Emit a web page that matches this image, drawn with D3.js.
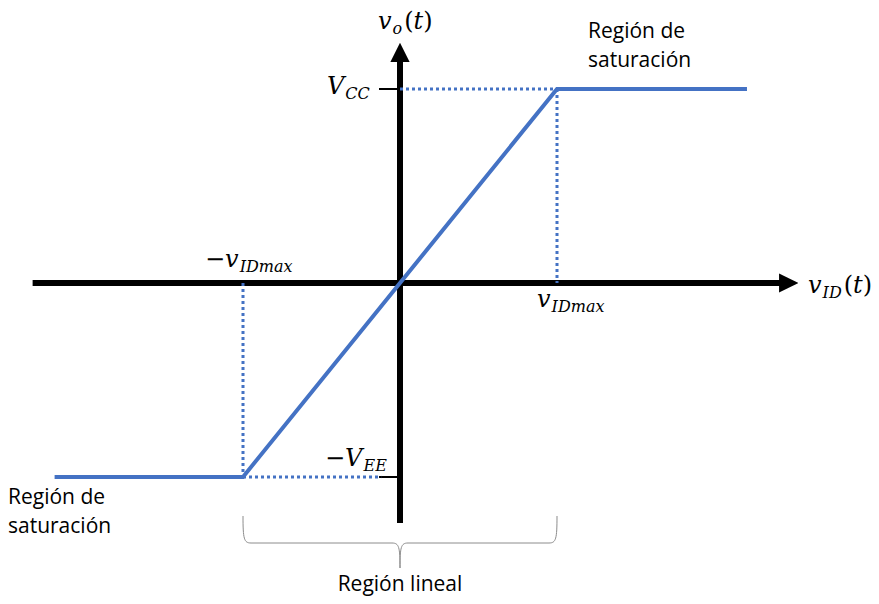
<!DOCTYPE html>
<html>
<head>
<meta charset="utf-8">
<script src="https://cdn.jsdelivr.net/npm/d3@7"></script>
<style>
  body { margin: 0; background: #fff; }
  svg { display: block; }
  .math { font-family: "DejaVu Serif", "Liberation Serif", serif; font-style: italic; fill: #000; }
  .note { font-family: "Open Sans", "Noto Sans", sans-serif; fill: #000; }
</style>
</head>
<body>
<div id="chart"></div>
<script>
// Curva de transferencia (unidades normalizadas: vIDmax = 1, VCC = VEE = 1)
const curveX = [-2.2, -1, 1, 2.21]
const curveY = [-1, -1, 1, 1]

// Límites de los ejes (punta de flecha incluida)
const axisX = [-2.34, 2.535]
const axisY = [-1.237, 1.237]

// Líneas punteadas de referencia
const guides = [
  { x1: -1, y1: 0, x2: -1, y2: -1 },
  { x1: -1, y1: -1, x2: -0.12, y2: -1 },
  { x1: 0, y1: 1, x2: 1, y2: 1 },
  { x1: 1, y1: 1, x2: 1, y2: 0 },
]

// Textos de las regiones
const satTopLines = ["Región de", "saturación"]
const satBottomLines = ["Región de", "saturación"]
const linearLabel = "Región lineal"

function drawTransfer(selector) {
  const width = 879
  const height = 604
  const blue = "#4472C4"

  const svg = d3
    .select(selector)
    .append("svg")
    .attr("width", width)
    .attr("height", height)

  // Escalas: origen en (400, 283)
  const x = d3.scaleLinear().domain([-1, 1]).range([243, 557])
  const y = d3.scaleLinear().domain([-1, 1]).range([477, 89])

  // Cabeza de flecha
  svg
    .append("defs")
    .append("marker")
    .attr("id", "arrow")
    .attr("viewBox", "0 0 10 10")
    .attr("refX", 1)
    .attr("refY", 5)
    .attr("markerWidth", 3.2)
    .attr("markerHeight", 3.2)
    .attr("orient", "auto")
    .attr("markerUnits", "strokeWidth")
    .append("path")
    .attr("d", "M0,0 L10,5 L0,10 Z")
    .attr("fill", "#000")

  // Eje horizontal
  svg
    .append("line")
    .attr("x1", x(axisX[0]))
    .attr("y1", y(0))
    .attr("x2", x(axisX[1]) - 17)
    .attr("y2", y(0))
    .attr("stroke", "#000")
    .attr("stroke-width", 6)
    .attr("marker-end", "url(#arrow)")

  // Eje vertical
  svg
    .append("line")
    .attr("x1", x(0))
    .attr("y1", y(axisY[0]))
    .attr("x2", x(0))
    .attr("y2", y(axisY[1]) + 17)
    .attr("stroke", "#000")
    .attr("stroke-width", 6)
    .attr("marker-end", "url(#arrow)")

  // Marcas VCC y -VEE
  ;[1, -1].forEach((v) => {
    svg
      .append("line")
      .attr("x1", x(0) - 21)
      .attr("x2", x(0))
      .attr("y1", y(v))
      .attr("y2", y(v))
      .attr("stroke", "#000")
      .attr("stroke-width", 2)
  })

  // Líneas punteadas
  svg
    .selectAll(".guide")
    .data(guides)
    .enter()
    .append("line")
    .attr("class", "guide")
    .attr("x1", (d) => x(d.x1))
    .attr("y1", (d) => y(d.y1))
    .attr("x2", (d) => x(d.x2))
    .attr("y2", (d) => y(d.y2))
    .attr("stroke", blue)
    .attr("stroke-width", 3)
    .attr("stroke-dasharray", "3,3")

  // Curva de transferencia
  const line = d3
    .line()
    .x((d) => x(d[0]))
    .y((d) => y(d[1]))
  svg
    .append("path")
    .datum(d3.zip(curveX, curveY))
    .attr("d", line)
    .attr("fill", "none")
    .attr("stroke", blue)
    .attr("stroke-width", 4)
    .attr("stroke-linejoin", "miter")

  // Etiquetas matemáticas
  function mathLabel(px, py, base, sub, tail) {
    const t = svg
      .append("text")
      .attr("class", "math")
      .attr("x", px)
      .attr("y", py)
      .attr("font-size", 24)
    if (base) t.append("tspan").text(base)
    if (sub)
      t.append("tspan")
        .attr("font-size", 16)
        .attr("dy", 5)
        .attr("dx", 1)
        .text(sub)
    if (tail) {
      t.append("tspan")
        .attr("dy", sub ? -5 : 0)
        .attr("dx", 2)
        .attr("font-style", "normal")
        .text("(")
      t.append("tspan").text("t")
      t.append("tspan").attr("font-style", "normal").text(")")
    }
    return t
  }

  mathLabel(378, 29, "v", "o", true)
  mathLabel(808, 293, "v", "ID", true)
  mathLabel(327, 94, "V", "CC", false)
  mathLabel(325, 466, "\u2212V", "EE", false)
  mathLabel(205, 267, "\u2212v", "IDmax", false)
  mathLabel(537, 307, "v", "IDmax", false)

  // Textos de regiones
  function note(px, lines, py) {
    const t = svg
      .append("text")
      .attr("class", "note")
      .attr("font-size", 21)
    lines.forEach((s, i) => {
      t.append("tspan").attr("x", px).attr("y", py + i * 29).text(s)
    })
  }
  note(588, satTopLines, 38)
  note(8, satBottomLines, 504)

  // Llave de la región lineal
  const bl = x(-1)
  const br = x(1)
  const bm = x(0)
  const top = 516
  const mid = 543
  const tip = 568
  const p = d3.path()
  p.moveTo(bl, top)
  p.bezierCurveTo(bl, mid - 4, bl + 1, mid, bl + 8, mid)
  p.lineTo(bm - 8, mid)
  p.bezierCurveTo(bm - 1, mid, bm, mid + 4, bm, tip)
  p.moveTo(br, top)
  p.bezierCurveTo(br, mid - 4, br - 1, mid, br - 8, mid)
  p.lineTo(bm + 8, mid)
  p.bezierCurveTo(bm + 1, mid, bm, mid + 4, bm, tip)
  svg
    .append("path")
    .attr("d", p.toString())
    .attr("fill", "none")
    .attr("stroke", "#8c8c8c")
    .attr("stroke-width", 1)

  svg
    .append("text")
    .attr("class", "note")
    .attr("x", bm)
    .attr("y", 591)
    .attr("font-size", 21)
    .attr("text-anchor", "middle")
    .text(linearLabel)
}

drawTransfer("#chart")
</script>
</body>
</html>
